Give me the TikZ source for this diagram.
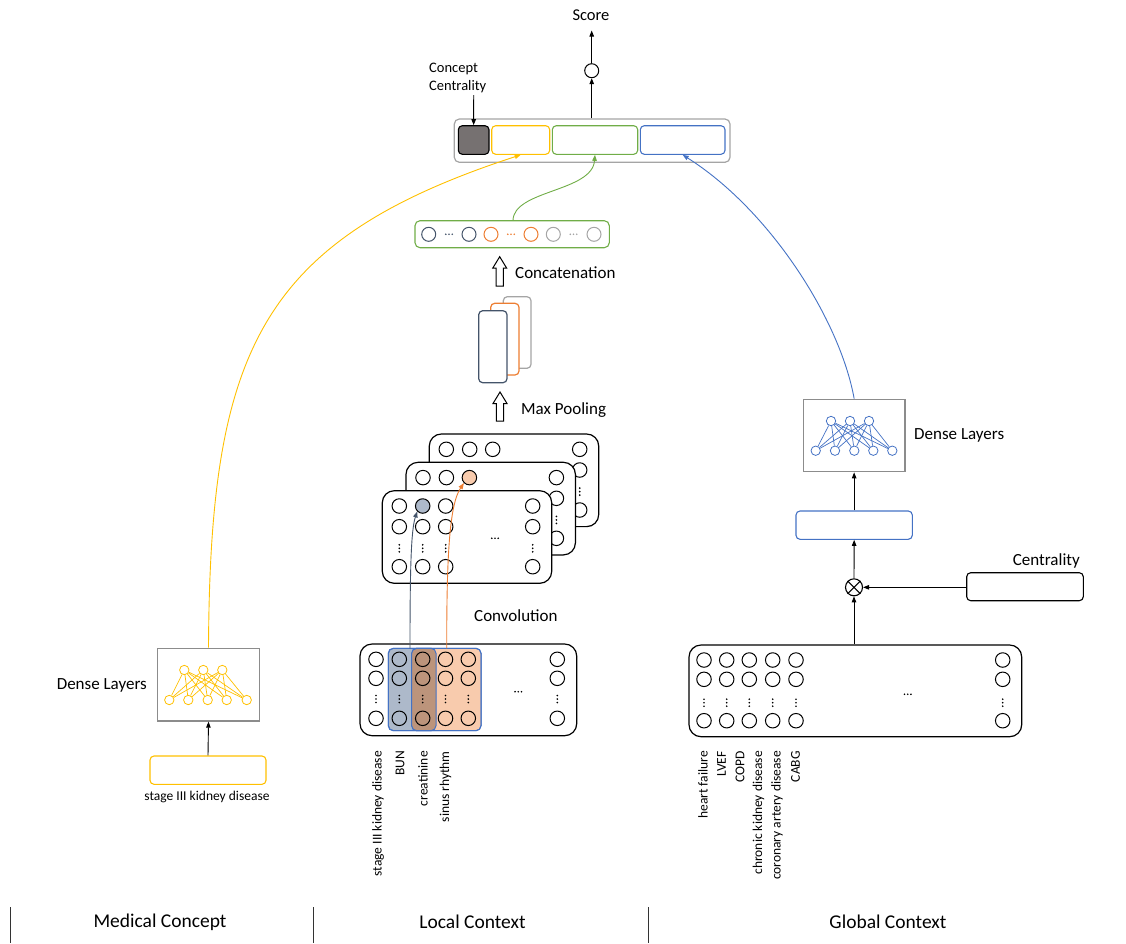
\documentclass[tikz,border=0pt]{standalone}
\usepackage{fontspec}
\setmainfont{Carlito}
\usetikzlibrary{arrows.meta,calc}
\definecolor{cyel}{HTML}{FFC000}
\definecolor{cgrn}{HTML}{70AD47}
\definecolor{cblu}{HTML}{4472C4}
\definecolor{cdbg}{HTML}{44546A}
\definecolor{corg}{HTML}{ED7D31}
\definecolor{cgry}{HTML}{A5A5A5}
\definecolor{cdsq}{HTML}{767171}
\definecolor{cbgf}{HTML}{ADB9CA}
\definecolor{corf}{HTML}{F8CBAD}
\definecolor{cbrn}{HTML}{BC947B}
\definecolor{cdbx}{HTML}{8C8C8C}
\tikzset{
 nrn/.style={circle,draw,line width=1pt,minimum size=14.5pt,inner sep=0pt},
 sneu/.style={circle,draw,line width=0.8pt,minimum size=9.4pt,inner sep=0pt},
 rbox/.style={draw,rounded corners=4pt,line width=1.1pt,inner sep=0pt},
 arr/.style={-{Triangle[length=6pt,width=4.5pt]},line width=0.9pt},
 lbl/.style={font=\fontsize{17}{20}\selectfont,inner sep=0pt},
 smalllbl/.style={font=\fontsize{13.5}{16}\selectfont,inner sep=0pt},
 seclbl/.style={font=\fontsize{19.5}{23}\selectfont,inner sep=0pt},
}
\newcommand{\bx}[6][]{%
 \pgfmathsetmacro{\bw}{#5-#3}\pgfmathsetmacro{\bh}{#6-#4}%
 \pgfmathsetmacro{\bcx}{(#3+#5)/2}\pgfmathsetmacro{\bcy}{(#4+#6)/2}%
 \node[rbox,minimum width=\bw pt,minimum height=\bh pt,#1] (#2) at (\bcx,\bcy) {};}
\newcommand{\vdt}[2]{\fill (#1,#2-3.5) circle (0.95pt) (#1,#2) circle (0.95pt) (#1,#2+3.5) circle (0.95pt);}
\newcommand{\hdt}[3][black]{\fill[#1] (#2-3.2,#3) circle (0.9pt) (#2,#3) circle (0.9pt) (#2+3.2,#3) circle (0.9pt);}
\newcommand{\harrow}[3]{\draw[line width=1pt,fill=white] (#1,#2) -- (#1+7,#2+11.5) -- (#1+3.6,#2+11.5) -- (#1+3.6,#3) -- (#1-3.6,#3) -- (#1-3.6,#2+11.5) -- (#1-7,#2+11.5) -- cycle;}
\newcommand{\fmap}[5]{%
 \bx[fill=white,rounded corners=12pt,line width=1.2pt]{#1}{#2}{#3}{#2+169.4}{#3+92.6}
 \foreach \fcol/\fdx in {1/17,2/40.4,3/63.4,4/150.4}{%
  \ifnum\fcol=#4\def\fc{#5}\else\def\fc{white}\fi
  \node[nrn,fill=\fc] (#1-\fcol-1) at (#2+\fdx,#3+15.3) {};
  \node[nrn,fill=white] (#1-\fcol-2) at (#2+\fdx,#3+36) {};
  \node[nrn,fill=white] (#1-\fcol-4) at (#2+\fdx,#3+76) {};
  \vdt{#2+\fdx}{#3+57.6}
 }
 \hdt{#2+112.7}{#3+47.6}
}
\begin{document}
\begin{tikzpicture}[x=1pt,y=-1pt]
\useasboundingbox (0,0) rectangle (1126,943);
% ---------- top: score ----------
\node[font=\fontsize{16.5}{20}\selectfont,inner sep=0pt] (score) at (591,15) {Score};
\coordinate (stip) at (591.7,30.5);
\node[circle,draw,line width=1pt,minimum size=14pt,inner sep=0pt] (oc) at (591.7,70.7) {};
\bx[draw=cgry,rounded corners=5pt,line width=1.2pt]{vec}{454.3}{119}{730}{162.3}
\bx[fill=cdsq,draw=black]{dsq}{458.3}{125.7}{489}{154.3}
\bx[draw=cyel]{ybox}{491.7}{125.7}{549.7}{154.3}
\bx[draw=cgrn]{gbox}{552.3}{125.7}{637.7}{154.3}
\bx[draw=cblu]{bbox}{640.3}{125.7}{725}{154.3}
\draw[arr] (vec.north -| oc.south) -- (oc.south);
\draw[arr] (oc.north) -- (stip);
\node[font=\fontsize{14.5}{18}\selectfont,inner sep=0pt,align=left,anchor=north west] (cc) at (429,62.5) {Concept\\Centrality};
\coordinate (ccs) at (473.7,95);
\draw[arr] (ccs) -- (dsq.north);
% ---------- concatenated vector ----------
\bx[draw=cgrn,rounded corners=5pt]{concat}{415}{220.7}{609.3}{247.7}
\foreach \nm/\xx/\cl in {1/428.7/cdbg,2/469/cdbg,3/491/corg,4/531/corg,5/553.3/cgry,6/594/cgry}{
 \node[nrn,draw=\cl,minimum size=14pt] (C\nm) at (\xx,234.3) {};
}
\hdt[cdbg]{449}{234.3}
\hdt[corg]{511}{234.3}
\hdt[cgry]{573.5}{234.3}
\coordinate (gcs) at (513,220.7);
\draw[arr,cgrn] (gcs) .. controls (513,190) and (592,192) .. (gbox.south);
\harrow{499.7}{256.7}{286}
\node[lbl,anchor=west] (lconcat) at (515,273) {Concatenation};
% ---------- pooled maps ----------
\bx[draw=cgry,fill=white,line width=1.2pt]{p3}{503.3}{296.7}{531}{368.3}
\bx[draw=corg,fill=white,line width=1.2pt]{p2}{490.7}{303.3}{519}{375}
\bx[draw=cdbg,fill=white,line width=1.2pt]{p1}{478.7}{310.7}{507}{382.7}
\harrow{500}{392}{421}
\node[lbl,anchor=west] (lmax) at (521,410) {Max Pooling};
% ---------- convolution maps ----------
\fmap{B}{429.3}{434}{0}{white}
\fmap{M}{406}{462.3}{3}{corf}
\fmap{F}{382.3}{490.7}{2}{cbgf}
\node[lbl,anchor=west] (lconv) at (474,616) {Convolution};
% ---------- local context ----------
\bx[fill=white,rounded corners=12pt,line width=1.2pt]{lmat}{360}{644}{576.7}{735.7}
\bx[fill=cbgf,draw=cblu,rounded corners=5pt,line width=1pt]{hlb}{388.3}{648.3}{436}{730.7}
\bx[fill=corf,draw=cblu,rounded corners=5pt,line width=1pt]{hlo}{411.7}{648.3}{481}{730.7}
\begin{scope}
 \clip[rounded corners=5pt] (388.3,648.3) rectangle (436,730.7);
 \fill[cbrn,rounded corners=5pt] (411.7,648.3) rectangle (481,730.7);
\end{scope}
\draw[cblu,line width=1pt,rounded corners=5pt] (388.3,648.3) rectangle (436,730.7);
\draw[cblu,line width=1pt,rounded corners=5pt] (411.7,648.3) rectangle (481,730.7);
\foreach \fcol/\fx in {1/376,2/399.3,3/422.7,4/445.5,5/468.3,6/557.3}{
 \node[nrn] (L-\fcol-1) at (\fx,659.3) {};
 \node[nrn] (L-\fcol-2) at (\fx,678.3) {};
 \node[nrn] (L-\fcol-4) at (\fx,718.3) {};
 \vdt{\fx}{699}
}
\hdt{518.3}{691.7}
\coordinate (bgs) at (410,648.3);
\coordinate (ors) at (446.7,648.3);
\draw[arr,cdbg] (bgs) .. controls (410,570) and (411,530) .. (F-2-1.south west);
\draw[arr,corg] (ors) .. controls (446.7,560) and (449,505) .. (M-3-1.south west);
\foreach \xx/\tt in {378/stage III kidney disease,400/BUN,423/creatinine,445.5/sinus rhythm}{
 \node[smalllbl,rotate=90,anchor=east] at (\xx,751) {\tt};
}
% ---------- global context ----------
\bx[fill=white,rounded corners=12pt,line width=1.2pt]{gmat}{689}{645}{1021.7}{736.7}
\foreach \fcol/\fx in {1/704,2/726.7,3/749.3,4/772.7,5/796,6/1002.7}{
 \node[nrn] (G-\fcol-1) at (\fx,660) {};
 \node[nrn] (G-\fcol-2) at (\fx,679.3) {};
 \node[nrn] (G-\fcol-4) at (\fx,720.7) {};
 \vdt{\fx}{702.7}
}
\hdt{907.7}{694.3}
\foreach \xx/\tt in {703/heart failure,721.5/LVEF,740/COPD,758.5/chronic kidney disease,777/coronary artery disease,795.5/CABG}{
 \node[smalllbl,rotate=90,anchor=east] at (\xx,751) {\tt};
}
\node[circle,draw,line width=1.1pt,minimum size=17pt,inner sep=0pt] (ot) at (854,587.3) {};
\draw[line width=1.1pt] (ot.north west) -- (ot.south east) (ot.north east) -- (ot.south west);
\bx[draw=cblu]{blb}{796}{511}{912.3}{539.3}
\bx[draw=black]{cen}{966.7}{572.7}{1083.3}{600.7}
\node[lbl,anchor=east] (lcen) at (1080,560.7) {Centrality};
\draw[arr] (gmat.north -| ot.south) -- (ot.south);
\draw[arr] (ot.east -| cen.west) -- (ot.east);
\draw[arr] (ot.north) -- (blb.south);
% dense layers (global)
\bx[draw=cdbx,rounded corners=0pt,line width=1.3pt]{dlr}{803.3}{399.3}{905}{471.7}
\foreach \i/\xx in {1/831,2/850,3/869}{\node[sneu,draw=cblu] (RT\i) at (\xx,421) {};}
\foreach \j/\xx in {1/815.7,2/835,3/854.3,4/873.3,5/892.3}{\node[sneu,draw=cblu] (RB\j) at (\xx,450.7) {};}
\foreach \i in {1,2,3}{\foreach \j in {1,...,5}{\draw[cblu,line width=0.7pt] (RT\i) -- (RB\j);}}
\node[lbl,anchor=west] (ldr) at (914,435) {Dense Layers};
\draw[arr] (blb.north) -- (dlr.south);
\draw[arr,cblu] (dlr.north) .. controls (840,320) and (770,210) .. (bbox.south);
% ---------- medical concept ----------
\bx[draw=cyel]{ylb}{150}{756}{266}{784.3}
\node[smalllbl] (lskd) at (207,797) {stage III kidney disease};
\bx[draw=cdbx,rounded corners=0pt,line width=1.3pt]{dll}{157.7}{648.3}{259.3}{721}
\foreach \i/\xx in {1/184.3,2/203.3,3/222.3}{\node[sneu,draw=cyel] (YT\i) at (\xx,670) {};}
\foreach \j/\xx in {1/169.3,2/188.3,3/207.7,4/226.7,5/246.7}{\node[sneu,draw=cyel] (YB\j) at (\xx,700) {};}
\foreach \i in {1,2,3}{\foreach \j in {1,...,5}{\draw[cyel,line width=0.7pt] (YT\i) -- (YB\j);}}
\node[lbl,anchor=east] (ldl) at (147,685) {Dense Layers};
\draw[arr] (ylb.north) -- (dll.south);
\draw[arr,cyel] (dll.north) .. controls (210,350) and (260,240) .. (ybox.south);
% ---------- bottom section labels ----------
\draw[line width=1pt,black!80] (10,907) -- (10,943) (313,907) -- (313,943) (648,907) -- (648,943);
\node[seclbl] (smc) at (160,922) {Medical Concept};
\node[seclbl] (slc) at (472.5,922) {Local Context};
\node[seclbl] (sgc) at (888,922) {Global Context};
\end{tikzpicture}
\end{document}
